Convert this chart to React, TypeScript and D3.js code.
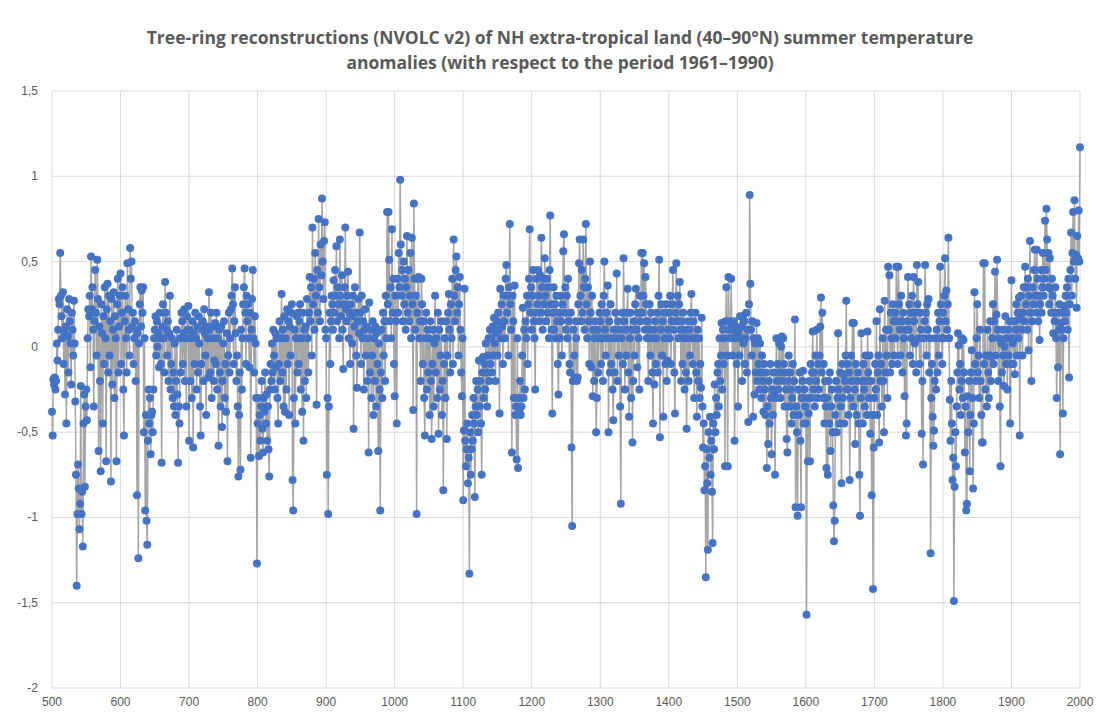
import React, { useEffect, useRef } from "react";
import * as d3 from "d3";

const startYear = 500;

const c500 = [
  -0.38, -0.52, -0.19, -0.22, -0.18, -0.25, -0.2, 0.02, -0.08, 0.1,
  0.28, 0.25, 0.55, 0.3, 0.18, 0.05, 0.32, -0.1, 0.08, -0.28,
  0.12, -0.45, 0.22, 0.06, -0.15, 0.28, 0.15, 0.02, -0.22, 0.2,
  0.1, -0.05, 0.27, 0.02, -0.32, -0.75, -1.4, -0.98, -0.69, -0.83,
  -1.07, -0.92, -0.23, -0.98, -0.85, -1.17, -0.45, -0.28, -0.82, -0.35,
  -0.25, -0.43, 0.05, 0.22, 0.18, 0.3, -0.12, 0.53, 0.22, 0.35,
  0.1, -0.35, 0.15, 0.45, 0.2, -0.05, 0.51, 0.28, -0.61, 0.12,
  -0.2, -0.73, 0.25, 0.08, -0.45, 0.18, -0.1, 0.35, 0.05, -0.67,
  0.22, 0.37, -0.15, 0.3, -0.05, 0.15, -0.79, 0.28, -0.22, 0.1,
  0.32, -0.3, 0.18, 0.05, -0.67, 0.25, 0.4, -0.15, 0.12, 0.3,
];
const c600 = [
  0.43, -0.1, 0.2, 0.35, -0.25, -0.52, 0.15, 0.3, 0.05, -0.15,
  0.49, 0.22, 0.1, -0.05, 0.58, 0.4, 0.5, 0.12, 0.2, -0.1,
  0.05, 0.15, -0.2, 0.1, -0.87, 0.08, -1.24, 0.02, 0.25, 0.35,
  0.12, 0.33, 0.2, 0.35, -0.5, 0.05, -0.96, -0.4, -1.02, -1.16,
  -0.55, -0.25, -0.45, -0.3, -0.63, -0.4, -0.38, -0.5, -0.25, 0.05,
  0.1, 0.18, -0.05, 0.15, 0.0, 0.08, -0.12, 0.2, 0.05, -0.1,
  -0.68, 0.12, 0.25, 0.05, -0.15, 0.38, 0.2, 0.1, -0.05, 0.15,
  -0.2, 0.08, 0.3, -0.25, -0.1, 0.05, -0.3, -0.15, -0.35, 0.02,
  -0.4, -0.2, 0.1, -0.28, -0.68, -0.35, -0.45, 0.05, -0.15, 0.2,
  0.15, -0.1, 0.08, 0.22, -0.2, 0.05, -0.35, 0.18, 0.1, 0.24,
];
const c700 = [
  -0.55, 0.1, -0.2, 0.05, -0.3, 0.15, -0.59, 0.08, -0.1, 0.2,
  0.05, -0.25, 0.12, -0.15, 0.18, 0.02, -0.35, -0.52, -0.1, 0.1,
  0.15, -0.2, 0.22, 0.08, -0.05, -0.4, 0.12, 0.05, -0.18, 0.32,
  0.1, -0.15, 0.2, -0.3, 0.05, 0.12, -0.2, -0.08, 0.14, -0.1,
  0.2, -0.25, 0.05, -0.58, 0.1, -0.15, -0.35, 0.12, -0.47, -0.2,
  0.02, 0.15, -0.3, -0.1, -0.38, 0.08, -0.67, -0.05, 0.2, -0.15,
  0.05, 0.22, 0.3, 0.46, 0.25, -0.1, 0.15, 0.35, 0.08, -0.2,
  -0.05, -0.35, -0.76, -0.4, -0.15, -0.72, 0.1, -0.25, 0.05, 0.25,
  0.35, 0.46, 0.2, -0.1, 0.3, 0.15, 0.25, 0.05, -0.12, 0.2,
  -0.65, 0.1, 0.28, 0.45, 0.05, -0.15, 0.18, 0.02, -0.3, -1.27,
];
const c800 = [
  -0.45, -0.3, -0.64, -0.4, -0.55, -0.35, -0.2, -0.48, -0.62, -0.3,
  -0.38, -0.15, -0.45, -0.28, -0.55, -0.35, -0.6, -0.76, -0.25, -0.1,
  -0.2, 0.02, -0.15, 0.1, -0.05, -0.25, 0.08, -0.12, 0.05, -0.3,
  -0.45, -0.1, 0.15, -0.2, 0.05, 0.31, -0.15, 0.1, -0.35, 0.18,
  -0.38, 0.05, -0.25, 0.22, -0.1, 0.15, -0.4, 0.12, -0.05, 0.2,
  0.25, -0.78, -0.96, -0.3, 0.1, -0.45, 0.05, 0.18, -0.15, 0.2,
  -0.1, 0.15, 0.25, -0.25, 0.05, -0.38, 0.2, -0.55, 0.1, -0.2,
  0.12, -0.3, 0.28, 0.05, -0.15, 0.2, 0.41, 0.15, 0.35, -0.05,
  0.7, 0.25, 0.4, 0.1, 0.55, 0.3, -0.34, 0.45, 0.2, 0.75,
  0.35, 0.15, 0.6, 0.42, 0.87, 0.5, 0.28, 0.62, 0.73, 0.1,
];
const c900 = [
  0.05, -0.75, -0.3, -0.98, -0.35, 0.2, -0.1, 0.15, 0.3, 0.25,
  0.1, 0.39, 0.2, 0.45, 0.3, 0.59, 0.15, 0.35, 0.25, 0.05,
  0.63, 0.3, 0.18, 0.42, 0.1, -0.13, 0.25, 0.35, 0.7, 0.22,
  0.15, 0.3, 0.44, 0.05, 0.2, -0.1, 0.25, 0.18, 0.02, 0.3,
  -0.48, 0.12, 0.35, 0.2, -0.05, -0.24, 0.15, 0.28, 0.08, 0.67,
  0.2, -0.1, 0.3, 0.05, 0.15, -0.25, 0.1, 0.22, -0.05, 0.12,
  -0.2, 0.05, -0.62, 0.26, -0.15, 0.1, -0.3, -0.05, 0.15, -0.4,
  0.05, -0.2, 0.12, -0.35, 0.08, -0.1, -0.61, 0.02, -0.25, -0.96,
  -0.15, 0.1, -0.3, 0.2, -0.05, 0.15, -0.2, 0.3, 0.05, 0.79,
  0.25, 0.79, 0.51, 0.15, 0.35, 0.05, 0.69, 0.2, 0.4, -0.1,
];
const c1000 = [
  -0.29, 0.3, 0.15, -0.45, 0.4, 0.2, 0.55, 0.35, 0.98, 0.6,
  0.3, 0.45, 0.15, 0.5, 0.25, 0.4, 0.1, 0.35, 0.65, 0.2,
  0.45, 0.15, 0.3, 0.55, 0.05, 0.64, 0.25, -0.37, 0.84, 0.4,
  0.1, 0.3, -0.98, 0.2, 0.4, 0.41, 0.05, 0.15, -0.2, 0.4,
  0.25, -0.1, 0.15, -0.3, -0.52, 0.05, 0.2, -0.25, 0.1, -0.15,
  0.05, -0.4, 0.15, -0.2, -0.54, -0.1, 0.1, -0.35, 0.02, 0.3,
  -0.15, 0.05, -0.3, 0.2, -0.51, 0.1, -0.25, -0.05, 0.15, -0.4,
  -0.2, -0.84, -0.1, 0.05, -0.3, 0.15, -0.54, -0.05, 0.2, 0.31,
  0.1, -0.15, 0.25, 0.05, 0.4, -0.1, 0.63, 0.3, 0.15, 0.45,
  0.53, 0.2, 0.35, -0.05, 0.25, 0.41, 0.1, -0.15, -0.29, 0.05,
];
const c1100 = [
  -0.9, -0.49, 0.34, -0.55, -0.7, -0.6, -0.45, -0.8, -0.65, -1.33,
  -0.5, -0.75, -0.6, -0.4, -0.55, -0.3, -0.45, -0.88, -0.35, -0.2,
  -0.4, -0.25, -0.5, -0.08, -0.35, -0.2, -0.45, -0.75, -0.15, -0.06,
  -0.3, -0.1, -0.25, 0.02, -0.15, -0.35, -0.05, 0.05, -0.2, 0.1,
  -0.1, 0.05, -0.15, 0.12, -0.05, 0.17, 0.02, -0.2, 0.08, 0.15,
  -0.05, 0.2, 0.1, -0.39, 0.34, 0.05, 0.25, 0.12, -0.1, 0.3,
  0.15, 0.05, 0.4, 0.48, 0.2, 0.3, -0.05, 0.35, 0.72, 0.25,
  0.1, -0.62, 0.3, 0.15, -0.3, 0.36, -0.4, -0.35, -0.66, 0.05,
  -0.71, -0.3, -0.38, -0.2, -0.4, -0.35, -0.05, 0.23, -0.3, 0.1,
  -0.25, 0.15, 0.05, 0.3, -0.1, 0.25, 0.4, 0.69, 0.2, 0.35,
];
const c1200 = [
  0.1, 0.3, 0.45, 0.15, 0.05, -0.25, 0.2, 0.4, 0.25, 0.45,
  0.3, 0.15, 0.42, 0.2, 0.64, 0.35, 0.1, 0.4, 0.25, 0.52,
  0.3, 0.15, 0.4, 0.2, 0.35, 0.05, 0.45, 0.77, 0.25, 0.1,
  -0.39, 0.2, 0.35, 0.1, 0.25, 0.05, 0.3, 0.15, -0.1, -0.28,
  0.2, 0.05, 0.3, 0.15, -0.05, 0.25, 0.56, 0.66, 0.2, 0.35,
  0.1, 0.3, 0.05, 0.4, 0.15, -0.1, -0.15, 0.2, -0.59, -1.05,
  -0.2, 0.1, -0.05, -0.18, 0.15, 0.05, -0.2, -0.18, 0.25, 0.49,
  0.63, 0.3, 0.15, 0.45, 0.2, 0.63, 0.35, 0.1, 0.4, 0.72,
  0.25, 0.05, 0.35, 0.15, -0.1, 0.5, 0.2, -0.12, 0.3, -0.29,
  0.1, -0.2, 0.05, 0.15, -0.5, -0.3, 0.1, -0.15, 0.05, 0.2,
];
const c1300 = [
  0.15, -0.1, 0.25, 0.05, -0.2, 0.3, 0.5, 0.1, -0.05, 0.2,
  0.05, 0.36, -0.5, 0.15, -0.15, 0.25, -0.1, 0.05, -0.25, -0.43,
  0.1, -0.15, 0.2, 0.05, 0.43, -0.2, 0.15, -0.05, 0.1, -0.35,
  -0.92, 0.05, 0.2, -0.1, 0.52, 0.15, -0.25, 0.1, -0.05, 0.2,
  0.34, -0.15, -0.41, 0.05, 0.2, -0.3, 0.1, -0.56, -0.2, 0.15,
  -0.05, 0.25, 0.34, 0.1, -0.12, 0.2, 0.05, -0.25, 0.3, 0.15,
  0.55, 0.2, 0.55, 0.3, 0.49, 0.1, 0.41, 0.25, 0.05, 0.15,
  -0.2, 0.1, 0.25, -0.05, 0.2, 0.05, -0.15, -0.45, 0.1, -0.22,
  0.15, -0.1, 0.05, 0.2, -0.15, 0.3, 0.51, -0.53, 0.1, 0.25,
  -0.05, 0.15, -0.41, 0.2, 0.05, -0.1, 0.25, -0.2, -0.08, 0.1,
];
const c1400 = [
  0.2, 0.05, 0.3, -0.1, 0.15, 0.25, 0.45, 0.1, -0.15, -0.39,
  0.2, 0.49, 0.15, 0.3, 0.05, 0.25, 0.38, 0.1, -0.2, 0.15,
  -0.1, 0.2, 0.05, -0.25, 0.1, -0.15, -0.48, 0.05, 0.15, -0.2,
  0.1, -0.05, 0.2, 0.31, 0.05, -0.1, 0.15, -0.3, 0.05, 0.2,
  -0.15, -0.41, 0.1, -0.2, 0.05, -0.3, -0.1, -0.24, 0.17, -0.35,
  -0.59, -0.45, -0.84, -0.7, -1.35, -0.6, -0.8, -1.19, -0.5, -0.65,
  -0.41, -0.75, -0.55, -0.85, -1.15, -0.45, -0.6, -0.22, -0.5, -0.3,
  -0.4, -0.15, -0.1, -0.35, 0.05, -0.2, -0.05, 0.14, -0.25, 0.1,
  -0.1, 0.05, -0.7, 0.15, 0.35, -0.05, -0.7, 0.41, 0.1, 0.15,
  0.05, 0.4, 0.12, -0.05, 0.1, 0.15, -0.55, 0.05, 0.12, -0.1,
];
const c1500 = [
  0.08, -0.35, 0.1, -0.05, 0.18, 0.05, 0.12, -0.2, 0.18, 0.02,
  0.15, -0.1, 0.05, 0.2, -0.15, 0.1, -0.44, 0.25, 0.89, 0.37,
  0.1, -0.05, 0.15, -0.41, 0.05, -0.28, 0.02, -0.15, 0.14, -0.2,
  0.05, -0.1, -0.25, 0.02, -0.15, -0.3, -0.05, -0.2, -0.38, -0.1,
  -0.25, -0.4, -0.15, -0.71, -0.35, -0.57, -0.2, -0.45, -0.1, -0.3,
  -0.63, -0.25, -0.4, -0.15, -0.27, -0.75, -0.3, 0.05, -0.2, -0.1,
  -0.25, 0.02, -0.15, -0.3, 0.0, 0.06, -0.2, 0.05, -0.1, -0.35,
  -0.15, -0.25, -0.54, -0.62, -0.2, -0.05, -0.35, -0.15, -0.25, -0.45,
  -0.3, -0.1, -0.4, -0.2, 0.16, -0.94, -0.35, -0.5, -0.99, -0.25,
  -0.4, -0.15, -0.55, -0.94, -0.3, -0.2, -0.14, -0.45, -0.25, -0.35,
];
const c1600 = [
  -0.45, -1.57, -0.3, -0.67, -0.39, -0.2, -0.67, -0.1, -0.3, -0.15,
  0.09, -0.25, -0.15, -0.35, -0.05, -0.2, 0.1, -0.3, -0.1, -0.25,
  -0.05, 0.12, 0.29, -0.15, 0.2, -0.3, -0.1, -0.45, -0.2, -0.35,
  -0.71, -0.3, -0.75, -0.2, -0.45, -0.15, -0.61, -0.35, -0.25, -0.5,
  -0.93, -1.14, -1.02, -0.4, -0.2, -0.5, -0.3, 0.08, -0.25, -0.45,
  -0.15, -0.35, -0.8, -0.1, -0.3, -0.16, -0.45, -0.2, -0.05, 0.27,
  -0.25, -0.1, -0.4, -0.15, -0.78, -0.3, -0.05, -0.2, 0.14, -0.35,
  0.14, -0.25, -0.57, -0.1, -0.4, -0.2, -0.15, -0.45, -0.75, -0.99,
  -0.3, 0.08, -0.2, -0.45, -0.1, -0.25, -0.35, -0.05, -0.2, -0.4,
  0.09, -0.15, -0.3, -0.05, -0.51, -0.2, -0.87, -0.4, -1.42, -0.59,
];
const c1700 = [
  -0.3, -0.1, -0.25, 0.15, -0.4, -0.15, -0.05, -0.56, 0.22, -0.2,
  -0.1, -0.35, 0.05, -0.2, -0.5, 0.27, -0.15, 0.1, -0.05, -0.3,
  0.47, 0.1, 0.42, -0.15, 0.2, 0.05, -0.1, 0.25, 0.15, -0.05,
  0.2, 0.05, 0.47, 0.15, -0.1, 0.47, 0.25, 0.1, -0.05, 0.3,
  0.15, -0.15, 0.2, 0.05, -0.29, 0.1, -0.52, -0.45, 0.15, 0.41,
  0.1, 0.25, -0.05, 0.2, 0.05, 0.3, -0.1, 0.41, 0.15, 0.02,
  0.2, -0.15, 0.48, 0.25, 0.38, 0.05, -0.1, 0.2, 0.1, -0.51,
  -0.2, -0.69, 0.05, 0.15, 0.48, 0.2, -0.05, 0.25, 0.1, 0.28,
  -0.15, 0.05, -1.21, -0.3, -0.1, -0.41, -0.58, -0.49, -0.2, 0.05,
  -0.25, 0.1, -0.15, 0.2, -0.05, 0.15, 0.47, 0.25, 0.05, -0.1,
];
const c1800 = [
  0.2, 0.05, 0.3, 0.52, 0.15, 0.33, 0.1, 0.25, 0.64, 0.05,
  -0.31, -0.55, -0.2, -0.45, -0.78, -0.65, -1.49, -0.82, -0.5, -0.7,
  -0.35, -0.15, 0.08, 0.01, -0.25, -0.1, -0.4, -0.2, 0.05, -0.3,
  0.04, -0.15, -0.62, -0.35, -0.96, -0.92, -0.29, -0.5, -0.2, -0.73,
  -0.4, -0.15, -0.02, -0.3, -0.83, -0.45, 0.32, -0.1, -0.2, 0.05,
  0.25, -0.15, -0.05, -0.3, 0.1, -0.2, -0.4, -0.56, -0.56, 0.49,
  -0.1, 0.49, -0.25, -0.05, -0.35, 0.1, -0.15, -0.3, -0.05, 0.15,
  -0.2, -0.06, 0.05, 0.25, -0.1, 0.15, 0.44, -0.05, 0.19, 0.51,
  0.1, -0.2, 0.05, -0.35, -0.7, 0.02, -0.15, 0.1, -0.05, -0.23,
  0.0, 0.18, -0.1, 0.05, -0.25, 0.1, -0.05, 0.15, -0.45, -0.1,
];
const c1900 = [
  0.39, 0.05, 0.02, -0.1, 0.15, -0.16, 0.1, 0.25, -0.05, 0.2,
  0.05, 0.29, -0.52, 0.16, 0.3, 0.1, -0.05, 0.2, 0.35, 0.15,
  0.47, 0.25, 0.35, 0.1, 0.4, -0.02, 0.3, 0.62, 0.2, -0.2,
  0.15, 0.35, 0.25, 0.45, 0.57, 0.3, 0.2, 0.57, 0.4, 0.15,
  0.3, 0.04, 0.25, 0.45, 0.2, 0.35, 0.55, 0.3, 0.4, 0.74,
  0.45, 0.81, 0.63, 0.35, 0.55, 0.25, 0.52, 0.34, 0.2, 0.4,
  0.3, 0.08, 0.2, 0.15, 0.35, 0.05, -0.3, 0.2, -0.12, 0.1,
  0.25, -0.63, 0.14, 0.1, 0.2, -0.39, 0.05, 0.24, 0.15, 0.3,
  0.2, 0.35, 0.1, 0.4, -0.18, 0.25, 0.45, 0.67, 0.3, 0.55,
  0.79, 0.5, 0.86, 0.4, 0.54, 0.23, 0.65, 0.52, 0.8, 0.5,
];
const c2000 = [1.17];

const yTicks = [1.5, 1, 0.5, 0, -0.5, -1, -1.5, -2];
const xTicks = [500, 600, 700, 800, 900, 1000, 1100, 1200, 1300, 1400, 1500, 1600, 1700, 1800, 1900, 2000];
const titleLines = [
  "Tree-ring reconstructions (NVOLC v2) of NH extra-tropical land (40–90°N) summer temperature",
  "anomalies (with respect to the period 1961–1990)",
];

const W = 1103;
const H = 718;
const M = { left: 52, right: 23, top: 91, bottom: 30 };

export default function App() {
  const ref = useRef<SVGSVGElement | null>(null);

  useEffect(() => {
    const values = [
      ...c500, ...c600, ...c700, ...c800, ...c900, ...c1000, ...c1100, ...c1200,
      ...c1300, ...c1400, ...c1500, ...c1600, ...c1700, ...c1800, ...c1900, ...c2000,
    ];
    const data = values.map((v, i) => ({ year: startYear + i, v }));

    const svg = d3.select(ref.current);
    svg.selectAll("*").remove();

    const x = d3.scaleLinear().domain([500, 2000]).range([M.left, W - M.right]);
    const y = d3.scaleLinear().domain([-2, 1.5]).range([H - M.bottom, M.top]);

    svg.append("rect").attr("width", W).attr("height", H).attr("fill", "#ffffff");

    const grid = svg.append("g");
    grid.selectAll("line.h").data(yTicks).join("line")
      .attr("x1", M.left).attr("x2", W - M.right)
      .attr("y1", (d) => y(d)).attr("y2", (d) => y(d))
      .attr("stroke", "#d9d9d9").attr("stroke-width", 1);
    grid.selectAll("line.v").data(xTicks).join("line")
      .attr("x1", (d) => x(d)).attr("x2", (d) => x(d))
      .attr("y1", M.top).attr("y2", H - M.bottom)
      .attr("stroke", "#d9d9d9").attr("stroke-width", 1);

    svg.append("g").selectAll("text").data(yTicks).join("text")
      .attr("x", M.left - 14).attr("y", (d) => y(d) + 4)
      .attr("text-anchor", "end")
      .attr("font-family", "'Liberation Sans', Arial, sans-serif")
      .attr("font-size", 12).attr("fill", "#595959")
      .text((d) => String(d).replace(".", ","));

    svg.append("g").selectAll("text").data(xTicks).join("text")
      .attr("x", (d) => x(d)).attr("y", H - M.bottom + 18)
      .attr("text-anchor", "middle")
      .attr("font-family", "'Liberation Sans', Arial, sans-serif")
      .attr("font-size", 12).attr("fill", "#595959")
      .text((d) => String(d));

    const line = d3.line<{ year: number; v: number }>()
      .x((d) => x(d.year)).y((d) => y(d.v));
    svg.append("path").datum(data)
      .attr("d", line)
      .attr("fill", "none").attr("stroke", "#a5a5a5").attr("stroke-width", 1.5);

    svg.append("g").selectAll("circle").data(data).join("circle")
      .attr("cx", (d) => x(d.year)).attr("cy", (d) => y(d.v))
      .attr("r", 4).attr("fill", "#4472c4");

    svg.append("g").selectAll("text").data(titleLines).join("text")
      .attr("x", 560).attr("y", (_d, i) => 44 + i * 25)
      .attr("text-anchor", "middle")
      .attr("font-family", "'Open Sans', 'Liberation Sans', sans-serif")
      .attr("font-weight", "bold")
      .attr("font-size", 17.5).attr("fill", "#595959")
      .text((d) => d);
  }, []);

  return (
    <svg
      ref={ref}
      width={W}
      height={H}
      style={{ position: "absolute", left: 0, top: 0, display: "block" }}
    />
  );
}
